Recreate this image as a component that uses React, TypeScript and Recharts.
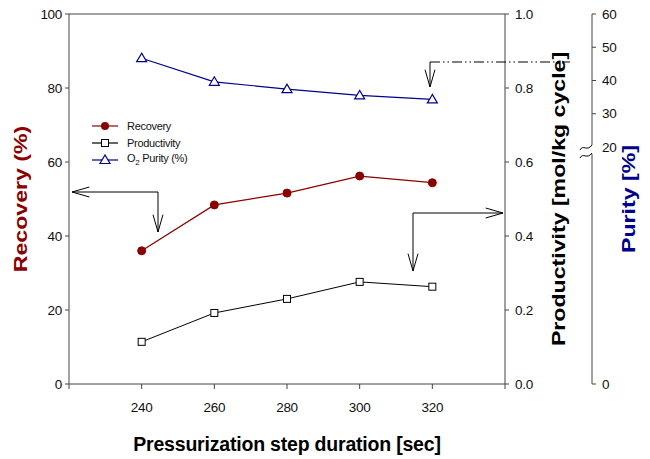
import React from "react";
import {
  ComposedChart,
  Line,
  XAxis,
  YAxis,
  ReferenceLine,
  Legend,
  Label,
} from "recharts";

// values
const durations = [240, 260, 280, 300, 320];
const recovery = [36.0, 48.4, 51.6, 56.2, 54.4];
const productivity = [0.114, 0.192, 0.23, 0.276, 0.263];
const purity = [46.7, 39.6, 37.4, 35.5, 34.3];

const xTicks = [220, 240, 260, 280, 300, 320, 340];
const recoveryTicks = [0, 20, 40, 60, 80, 100];
const productivityTicks = [0, 0.2, 0.4, 0.6, 0.8, 1.0];
// purity axis is broken below 20: bottom of the axis stands for 0
const purityBottom = -51.3;
const purityTicks = [purityBottom, 20, 30, 40, 50, 60];

const data = durations.map((d, i) => ({
  duration: d,
  recovery: recovery[i],
  productivity: productivity[i],
  purity: purity[i],
}));

const FONT = '"Liberation Sans", Arial, sans-serif';
const RED = "#8B0000";
const NAVY = "#00008B";
const AXIS = "#444";
const tickStyle = { fontSize: 13.5, fill: "#111", fontFamily: FONT, letterSpacing: -0.3 };

const Square = (props: any) => {
  const { cx, cy } = props;
  if (cx == null || cy == null) return null;
  return <rect x={cx - 3.5} y={cy - 3.5} width={7} height={7} fill="#fff" stroke="#000" strokeWidth={1} />;
};

const Triangle = (props: any) => {
  const { cx, cy } = props;
  if (cx == null || cy == null) return null;
  return (
    <polygon
      points={`${cx},${cy - 5} ${cx - 5},${cy + 3.5} ${cx + 5},${cy + 3.5}`}
      fill="#fff"
      stroke={NAVY}
      strokeWidth={1.2}
    />
  );
};

const Circle = (props: any) => {
  const { cx, cy } = props;
  if (cx == null || cy == null) return null;
  return <circle cx={cx} cy={cy} r={4} fill={RED} stroke={RED} />;
};

const LegendBox = () => {
  const rows = [
    { label: <>Recovery</>, color: RED, mark: <circle cx={13} cy={6} r={4} fill={RED} /> },
    {
      label: <>Productivity</>,
      color: "#000",
      mark: <rect x={9.5} y={2.5} width={7} height={7} fill="#fff" stroke="#000" />,
    },
    {
      label: (
        <>
          O<sub style={{ fontSize: 8 }}>2</sub> Purity (%)
        </>
      ),
      color: NAVY,
      mark: <polygon points="13,1 8,9.5 18,9.5" fill="#fff" stroke={NAVY} strokeWidth={1.2} />,
    },
  ];
  return (
    <div style={{ fontFamily: FONT, fontSize: 11, letterSpacing: -0.3, color: "#111" }}>
      {rows.map((r, i) => (
        <div key={i} style={{ display: "flex", alignItems: "center", height: 17 }}>
          <svg width={27} height={12} style={{ marginRight: 8 }}>
            <line x1={0} y1={6} x2={26} y2={6} stroke={r.color} strokeWidth={1.2} />
            {r.mark}
          </svg>
          <span>{r.label}</span>
        </div>
      ))}
    </div>
  );
};

// vertical titles are stretched along their length in the original
const axisTitle = (text: string, color: string, dx: number) => (props: any) => {
  const vb = props.viewBox;
  const x = vb.x + dx;
  const y = vb.y + vb.height / 2;
  return (
    <text
      x={0}
      y={0}
      transform={`translate(${x} ${y}) rotate(-90) scale(1.25 1)`}
      textAnchor="middle"
      dominantBaseline="central"
      fill={color}
      fontFamily={FONT}
      fontWeight="bold"
      fontSize={18.5}
    >
      {text}
    </text>
  );
};

const xTitle = (props: any) => {
  const vb = props.viewBox;
  return (
    <text
      x={vb.x + vb.width / 2}
      y={vb.y + 67}
      textAnchor="middle"
      fill="#000"
      fontFamily={FONT}
      fontWeight="bold"
      fontSize={19.5}
      letterSpacing={-0.2}
    >
      Pressurization step duration [sec]
    </text>
  );
};

const PurityTick = (props: any) => {
  const { x, y, payload } = props;
  const v = payload.value;
  return (
    <text x={x + 1} y={y} dy="0.35em" textAnchor="start" {...tickStyle}>
      {v < 0 ? "0" : v}
    </text>
  );
};

// hand-drawn style annotation arrows from the original figure
const Arrow = ({ x1, y1, x2, y2, dash }: any) => {
  const ang = Math.atan2(y2 - y1, x2 - x1);
  const len = 18;
  const spread = 0.28;
  const a1x = x2 - len * Math.cos(ang - spread);
  const a1y = y2 - len * Math.sin(ang - spread);
  const a2x = x2 - len * Math.cos(ang + spread);
  const a2y = y2 - len * Math.sin(ang + spread);
  return (
    <g stroke="#000" strokeWidth={1} fill="none">
      <line x1={x1} y1={y1} x2={x2} y2={y2} strokeDasharray={dash} />
      <polyline points={`${a1x},${a1y} ${x2},${y2} ${a2x},${a2y}`} />
    </g>
  );
};

const Annotations = () => (
  <svg
    width={650}
    height={459}
    style={{ position: "absolute", left: 0, top: 0, pointerEvents: "none" }}
  >
    {/* recovery -> left axis */}
    <Arrow x1={158} y1={192} x2={72} y2={192} />
    <Arrow x1={158} y1={192} x2={158} y2={232} />
    {/* productivity -> right axis */}
    <Arrow x1={413} y1={213} x2={503} y2={213} />
    <Arrow x1={413} y1={213} x2={413} y2={271} />
    {/* purity -> purity axis */}
    <line x1={430} y1={62} x2={570} y2={62} stroke="#000" strokeDasharray="10 3 1.5 3 1.5 3" />
    <Arrow x1={430} y1={62} x2={430} y2={87} />
    {/* break on purity axis */}
    <rect x={588} y={145} width={8} height={9} fill="#fff" />
    <path d="M580,150 C583,144 587,152 592,145" stroke="#000" fill="none" strokeWidth={1} />
    <path d="M580,158 C583,152 587,160 592,153" stroke="#000" fill="none" strokeWidth={1} />
  </svg>
);

export default function App() {
  return (
    <div style={{ position: "absolute", left: 0, top: 0, width: 650, height: 459, background: "#fff" }}>
      <ComposedChart
        width={650}
        height={459}
        data={data}
        margin={{ top: 14, right: 10, bottom: 0, left: 0 }}
      >
        <XAxis
          dataKey="duration"
          type="number"
          domain={[220, 340]}
          ticks={xTicks}
          tickFormatter={(v) => (v === 220 || v === 340 ? "" : String(v))}
          tickSize={5}
          tickMargin={13}
          height={75}
          stroke={AXIS}
          tick={tickStyle}
        >
          <Label content={xTitle} />
        </XAxis>
        <YAxis
          yAxisId="rec"
          orientation="left"
          width={69}
          domain={[0, 100]}
          ticks={recoveryTicks}
          tickSize={4}
          tickMargin={3}
          stroke={AXIS}
          tick={tickStyle}
        >
          <Label content={axisTitle("Recovery (%)", RED, 20)} />
        </YAxis>
        <YAxis
          yAxisId="prod"
          orientation="right"
          width={87}
          domain={[0, 1]}
          ticks={productivityTicks}
          tickFormatter={(v) => Number(v).toFixed(1)}
          tickSize={4}
          tickMargin={6}
          stroke={AXIS}
          tick={tickStyle}
        >
          <Label content={axisTitle("Productivity [mol/kg cycle]", "#000", 53)} />
        </YAxis>
        <YAxis
          yAxisId="pur"
          orientation="right"
          width={48}
          domain={[purityBottom, 60]}
          ticks={purityTicks}
          allowDataOverflow
          tickSize={4}
          tickMargin={5}
          stroke={AXIS}
          tick={<PurityTick />}
        >
          <Label content={axisTitle("Purity [%]", NAVY, 36)} />
        </YAxis>
        <ReferenceLine yAxisId="rec" y={100} stroke={AXIS} />
        <Legend
          layout="vertical"
          align="center"
          verticalAlign="middle"
          content={<LegendBox />}
          wrapperStyle={{ position: "absolute", top: 117, left: 92, width: "auto" }}
        />
        <Line
          yAxisId="rec"
          dataKey="recovery"
          name="Recovery"
          stroke={RED}
          strokeWidth={1.2}
          dot={<Circle />}
          activeDot={false}
          isAnimationActive={false}
        />
        <Line
          yAxisId="prod"
          dataKey="productivity"
          name="Productivity"
          stroke="#000"
          strokeWidth={1}
          dot={<Square />}
          activeDot={false}
          isAnimationActive={false}
        />
        <Line
          yAxisId="pur"
          dataKey="purity"
          name="O2 Purity (%)"
          stroke={NAVY}
          strokeWidth={1.2}
          dot={<Triangle />}
          activeDot={false}
          isAnimationActive={false}
        />
      </ComposedChart>
      <Annotations />
    </div>
  );
}
